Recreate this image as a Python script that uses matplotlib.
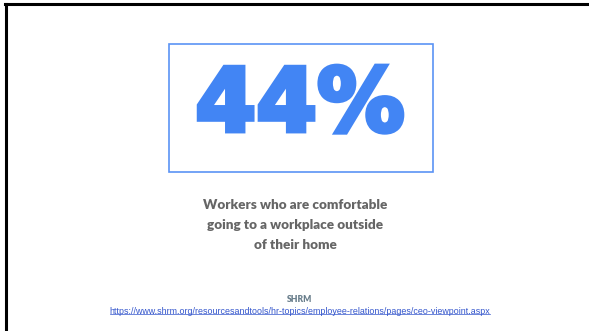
import matplotlib
matplotlib.use("Agg")
import matplotlib.pyplot as plt
from matplotlib.patches import Rectangle
from matplotlib.lines import Line2D
import matplotlib.patheffects as pe

value = [44]
value_suffix = ["%"]
caption_lines = ["Workers who are comfortable", "going to a workplace outside", "of their home"]
source_name = ["SHRM"]
source_url = ["https://www.shrm.org/resourcesandtools/hr-topics/employee-relations/pages/ceo-viewpoint.aspx"]

W, H = 589, 331
fig = plt.figure(figsize=(W / 100, H / 100), dpi=100)
ax = fig.add_axes([0, 0, 1, 1])
ax.set_xlim(0, W)
ax.set_ylim(H, 0)
ax.axis("off")

# outer frame (top and left visible)
ax.add_line(Line2D([5, W], [4, 4], color="black", lw=2.2))
ax.add_line(Line2D([6, 6], [4, H], color="black", lw=2.2))

# blue box
ax.add_patch(Rectangle((169, 44), 264, 128, fill=False, ec="#5b93f5", lw=1.2))

blue = "#4285f4"
ax.text(300, 107, f"{value[0]}{value_suffix[0]}", ha="center", va="center",
        fontsize=63, fontweight="bold", family=["DejaVu Sans"], color=blue,
        path_effects=[pe.withStroke(linewidth=3.5, foreground=blue, joinstyle="miter")])

for i, line in enumerate(caption_lines):
    ax.text(295, 205 + 20 * i, line, ha="center", va="center", fontsize=9.7,
            fontweight="heavy", family=["Lato", "DejaVu Sans"], color="#666666")

ax.text(300, 299, source_name[0], ha="center", va="center", fontsize=6.2,
        fontweight="heavy", family=["Lato", "DejaVu Sans"], color="#6a7f8c")
t = ax.text(300, 311, source_url[0], ha="center", va="center", fontsize=6.4,
            family=["Liberation Sans", "DejaVu Sans"], color="#3355cc")
fig.canvas.draw()
bb = t.get_window_extent()
inv = ax.transData.inverted()
(x0, y0), (x1, y1) = inv.transform([[bb.x0, bb.y0], [bb.x1, bb.y1]])
ax.add_line(Line2D([x0, x1], [y0 - 1.5, y0 - 1.5], color="#3355cc", lw=0.5))

fig.savefig("out.png", dpi=100, facecolor="white")
